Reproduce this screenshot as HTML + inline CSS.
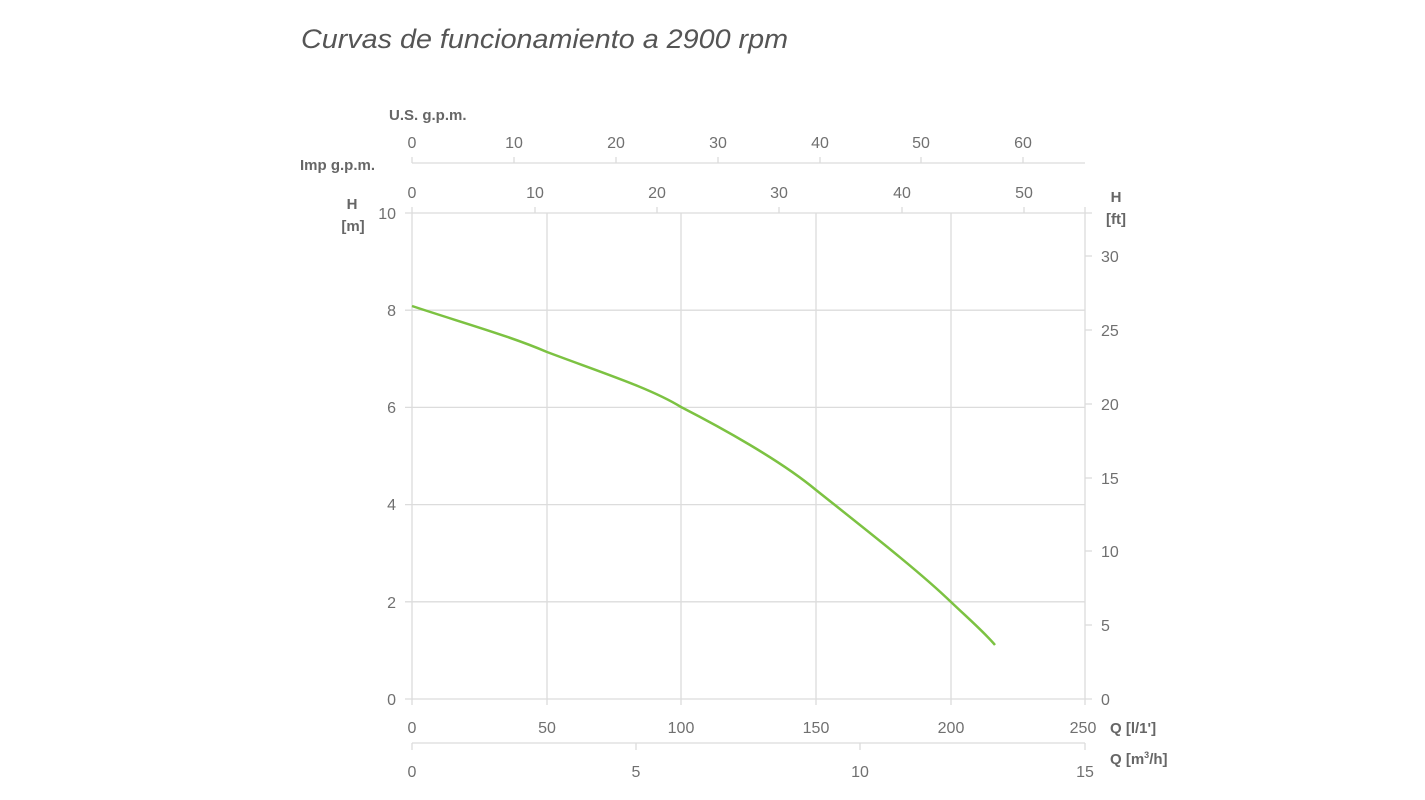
<!DOCTYPE html>
<html><head><meta charset="utf-8"><style>
html,body{margin:0;padding:0;background:#fff;}
svg{display:block;}
text{font-family:"Liberation Sans",sans-serif;fill:#707070;font-size:16px;}
.b{font-weight:bold;fill:#666;font-size:15px;}
</style></head><body>
<svg width="1425" height="800" viewBox="0 0 1425 800">
<text x="301" y="48" style="font-size:27px;font-style:italic;fill:#555;" textLength="487" lengthAdjust="spacingAndGlyphs">Curvas de funcionamiento a 2900 rpm</text>
<g stroke="#dcdcdc" stroke-width="1.3" fill="none">
<line x1="405" y1="213" x2="1092" y2="213"/>
<line x1="405" y1="310.2" x2="1085" y2="310.2"/>
<line x1="405" y1="407.4" x2="1085" y2="407.4"/>
<line x1="405" y1="504.6" x2="1085" y2="504.6"/>
<line x1="405" y1="601.8" x2="1085" y2="601.8"/>
<line x1="405" y1="699" x2="1092" y2="699"/>
<line x1="412" y1="207" x2="412" y2="705"/>
<line x1="547" y1="213" x2="547" y2="705"/>
<line x1="681" y1="213" x2="681" y2="705"/>
<line x1="816" y1="213" x2="816" y2="705"/>
<line x1="951" y1="213" x2="951" y2="705"/>
<line x1="1085" y1="207" x2="1085" y2="705"/>
<line x1="412" y1="163" x2="1085" y2="163"/>
<line x1="412" y1="157" x2="412" y2="163"/><line x1="514" y1="157" x2="514" y2="163"/><line x1="616" y1="157" x2="616" y2="163"/><line x1="718" y1="157" x2="718" y2="163"/><line x1="820" y1="157" x2="820" y2="163"/><line x1="921" y1="157" x2="921" y2="163"/><line x1="1023" y1="157" x2="1023" y2="163"/>
<line x1="535" y1="207" x2="535" y2="213"/><line x1="657" y1="207" x2="657" y2="213"/><line x1="779" y1="207" x2="779" y2="213"/><line x1="902" y1="207" x2="902" y2="213"/><line x1="1024" y1="207" x2="1024" y2="213"/>
<line x1="1085" y1="256" x2="1092" y2="256"/><line x1="1085" y1="330" x2="1092" y2="330"/><line x1="1085" y1="404" x2="1092" y2="404"/><line x1="1085" y1="478" x2="1092" y2="478"/><line x1="1085" y1="551" x2="1092" y2="551"/><line x1="1085" y1="625" x2="1092" y2="625"/>
<line x1="412" y1="743" x2="1085" y2="743"/>
<line x1="412" y1="743" x2="412" y2="750"/><line x1="636" y1="743" x2="636" y2="750"/><line x1="860" y1="743" x2="860" y2="750"/><line x1="1085" y1="743" x2="1085" y2="750"/>
</g>
<path d="M412,306 C460,322 510,336 547,352 C600,372 650,388 681,407 C720,427 780,460 816,490 C870,533 920,572 951,602 C970,620 985,633 995,645" stroke="#7cc242" stroke-width="2.5" fill="none"/>
<g text-anchor="middle">
<text x="412" y="148">0</text><text x="514" y="148">10</text><text x="616" y="148">20</text><text x="718" y="148">30</text><text x="820" y="148">40</text><text x="921" y="148">50</text><text x="1023" y="148">60</text>
<text x="412" y="198">0</text><text x="535" y="198">10</text><text x="657" y="198">20</text><text x="779" y="198">30</text><text x="902" y="198">40</text><text x="1024" y="198">50</text>
<text x="412" y="733">0</text><text x="547" y="733">50</text><text x="681" y="733">100</text><text x="816" y="733">150</text><text x="951" y="733">200</text><text x="1083" y="733">250</text>
<text x="412" y="777">0</text><text x="636" y="777">5</text><text x="860" y="777">10</text><text x="1085" y="777">15</text>
<text x="352" y="209" class="b">H</text><text x="353" y="231" class="b">[m]</text>
<text x="1116" y="202" class="b">H</text><text x="1116" y="224" class="b">[ft]</text>
</g>
<g text-anchor="end">
<text x="396" y="219">10</text><text x="396" y="316">8</text><text x="396" y="413">6</text><text x="396" y="510">4</text><text x="396" y="608">2</text><text x="396" y="705">0</text>
</g>
<g>
<text x="1101" y="262">30</text><text x="1101" y="336">25</text><text x="1101" y="410">20</text><text x="1101" y="484">15</text><text x="1101" y="557">10</text><text x="1101" y="631">5</text><text x="1101" y="705">0</text>
<text x="389" y="120" class="b">U.S. g.p.m.</text>
<text x="300" y="170" class="b">Imp g.p.m.</text>
<text x="1110" y="733" class="b">Q [l/1']</text>
<text x="1110" y="764" class="b">Q [m<tspan dy="-6" style="font-size:9px">3</tspan><tspan dy="6">/h]</tspan></text>
</g>
</svg>
</body></html>
